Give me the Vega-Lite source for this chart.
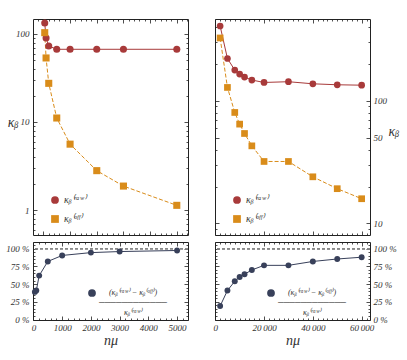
{
"$schema":"https://vega.github.io/schema/vega-lite/v6.json",
"padding":{"left":5,"top":18,"right":0,"bottom":0},
"datasets":{
"topL":[{"n":50,"s":"raw","k":133},{"n":100,"s":"raw","k":90},{"n":200,"s":"raw","k":73},{"n":500,"s":"raw","k":67},{"n":1000,"s":"raw","k":67},{"n":2000,"s":"raw","k":67},{"n":3000,"s":"raw","k":67},{"n":5000,"s":"raw","k":67},
{"n":50,"s":"off","k":103.5},{"n":100,"s":"off","k":53.4},{"n":200,"s":"off","k":27.5},{"n":500,"s":"off","k":11.1},{"n":1000,"s":"off","k":5.6},{"n":2000,"s":"off","k":2.8},{"n":3000,"s":"off","k":1.87},{"n":5000,"s":"off","k":1.13}],
"topR":[{"n":2000,"s":"raw","k":407},{"n":5000,"s":"raw","k":221},{"n":8000,"s":"raw","k":178},{"n":10000,"s":"raw","k":165},{"n":12000,"s":"raw","k":156},{"n":15000,"s":"raw","k":147.5},{"n":20000,"s":"raw","k":141},{"n":30000,"s":"raw","k":143},{"n":40000,"s":"raw","k":137.5},{"n":50000,"s":"raw","k":135},{"n":60000,"s":"raw","k":134},
{"n":2000,"s":"off","k":325},{"n":5000,"s":"off","k":128.4},{"n":8000,"s":"off","k":80.3},{"n":10000,"s":"off","k":64.5},{"n":12000,"s":"off","k":54.1},{"n":15000,"s":"off","k":42.9},{"n":20000,"s":"off","k":32},{"n":30000,"s":"off","k":32},{"n":40000,"s":"off","k":24},{"n":50000,"s":"off","k":19.2},{"n":60000,"s":"off","k":15.9}],
"botL":[{"n":50,"s":"frac","p":0.39},{"n":100,"s":"frac","p":0.41},{"n":200,"s":"frac","p":0.62},{"n":500,"s":"frac","p":0.82},{"n":1000,"s":"frac","p":0.905},{"n":2000,"s":"frac","p":0.945},{"n":3000,"s":"frac","p":0.96},{"n":5000,"s":"frac","p":0.975}],
"botR":[{"n":2000,"s":"frac","p":0.19},{"n":5000,"s":"frac","p":0.41},{"n":8000,"s":"frac","p":0.54},{"n":10000,"s":"frac","p":0.6},{"n":12000,"s":"frac","p":0.64},{"n":15000,"s":"frac","p":0.7},{"n":20000,"s":"frac","p":0.765},{"n":30000,"s":"frac","p":0.765},{"n":40000,"s":"frac","p":0.82},{"n":50000,"s":"frac","p":0.855},{"n":60000,"s":"frac","p":0.88}]
},
"spacing":23,
"resolve":{"scale":{"color":"independent","shape":"independent"},"legend":{"color":"independent","shape":"independent"}},
"hconcat":[
{"vconcat":[
{"width":155,"height":216,"data":{"name":"topL"},
"resolve":{"axis":{"x":"independent","y":"independent"}},
"layer":[
{"transform":[{"filter":"datum.s === 'raw'"}],
"mark":{"type":"line","strokeWidth":1,"color":"#a83a3a"},
"encoding":{
"x":{"field":"n","type":"quantitative","scale":{"domain":[-390,5420],"nice":false,"zero":false},"axis":{"orient":"bottom","values":[0,1000,2000,3000,4000,5000],"labels":false,"tickSize":4,"offset":-4,"title":null}},
"y":{"field":"k","type":"quantitative","scale":{"type":"log","domain":[0.52,148],"nice":false},"axis":{"orient":"left","values":[1,10,100],"tickSize":4,"offset":-4,"labelPadding":4,"title":"κᵦ","titleAngle":0,"titleAlign":"right","titleBaseline":"middle","titleX":-19,"titleY":103}}}},
{"transform":[{"filter":"datum.s === 'off'"}],
"mark":{"type":"line","strokeWidth":1,"color":"#d98c1a","strokeDash":[4,2]},
"encoding":{
"x":{"field":"n","type":"quantitative","axis":{"orient":"top","values":[0,1000,2000,3000,4000,5000],"labels":false,"tickSize":4,"offset":-4,"title":null}},
"y":{"field":"k","type":"quantitative","axis":{"orient":"right","values":[1,10,100],"labels":false,"tickSize":4,"offset":-4,"title":null}}}},
{"mark":{"type":"point","filled":true,"opacity":1,"size":50},
"encoding":{
"x":{"field":"n","type":"quantitative","axis":{"orient":"bottom","values":[-200,200,400,600,800,1200,1400,1600,1800,2200,2400,2600,2800,3200,3400,3600,3800,4200,4400,4600,4800,5200,5400],"labels":false,"tickSize":2,"offset":-2,"title":null}},
"y":{"field":"k","type":"quantitative","axis":{"orient":"left","values":[0.6,0.7,0.8,0.9,2,3,4,5,6,7,8,9,20,30,40,50,60,70,80,90],"labels":false,"tickSize":2,"offset":-2,"title":null}},
"color":{"field":"s","type":"nominal","scale":{"domain":["raw","off"],"range":["#a83a3a","#d98c1a"]},"legend":{"orient":"none","legendX":17,"legendY":176,"title":null,"labelExpr":"datum.label === 'raw' ? 'κᵦ⁽ʳᵃʷ⁾' : 'κᵦ⁽ᵒᶠᶠ⁾'","symbolSize":60,"rowPadding":9,"labelFontSize":10}},
"shape":{"field":"s","type":"nominal","scale":{"domain":["raw","off"],"range":["circle","square"]},"legend":{"orient":"none","legendX":17,"legendY":176,"title":null,"labelExpr":"datum.label === 'raw' ? 'κᵦ⁽ʳᵃʷ⁾' : 'κᵦ⁽ᵒᶠᶠ⁾'","symbolSize":60,"rowPadding":9,"labelFontSize":10}}}},
{"mark":{"type":"point","opacity":0},
"encoding":{
"x":{"field":"n","type":"quantitative","axis":{"orient":"top","values":[-200,200,400,600,800,1200,1400,1600,1800,2200,2400,2600,2800,3200,3400,3600,3800,4200,4400,4600,4800,5200,5400],"labels":false,"tickSize":2,"offset":-2,"title":null}},
"y":{"field":"k","type":"quantitative","axis":{"orient":"right","values":[0.6,0.7,0.8,0.9,2,3,4,5,6,7,8,9,20,30,40,50,60,70,80,90],"labels":false,"tickSize":2,"offset":-2,"title":null}}}}
]},
{"width":155,"height":78,"data":{"name":"botL"},
"resolve":{"axis":{"x":"independent","y":"independent"}},
"layer":[
{"mark":{"type":"rule","strokeDash":[3,2],"color":"#8a8a8a","strokeWidth":0.8},
"encoding":{"y":{"datum":1,"type":"quantitative","scale":{"domain":[-0.007,1.095],"nice":false,"zero":false},"axis":null}}},
{"mark":{"type":"line","color":"#38405a","strokeWidth":1},
"encoding":{
"x":{"field":"n","type":"quantitative","scale":{"domain":[-15,5380],"nice":false,"zero":false},"axis":{"orient":"bottom","values":[0,1000,2000,3000,4000,5000],"format":"d","tickSize":4,"offset":-4,"labelPadding":3,"title":"nμ","titlePadding":1}},
"y":{"field":"p","type":"quantitative","axis":{"orient":"left","values":[0,0.25,0.5,0.75,1],"labelExpr":"format(datum.value*100,'d') + ' %'","tickSize":4,"offset":-4,"labelPadding":4,"title":null}}}},
{"mark":{"type":"point","filled":true,"opacity":1,"size":35},
"encoding":{
"x":{"field":"n","type":"quantitative","axis":{"orient":"bottom","values":[200,400,600,800,1200,1400,1600,1800,2200,2400,2600,2800,3200,3400,3600,3800,4200,4400,4600,4800,5200],"labels":false,"tickSize":2,"offset":-2,"title":null}},
"y":{"field":"p","type":"quantitative","axis":{"orient":"left","values":[0.05,0.1,0.15,0.2,0.3,0.35,0.4,0.45,0.55,0.6,0.65,0.7,0.8,0.85,0.9,0.95,1.05],"labels":false,"tickSize":2,"offset":-2,"title":null}},
"color":{"field":"s","type":"nominal","scale":{"domain":["frac"],"range":["#38405a"]},"legend":{"orient":"none","legendX":54,"legendY":46,"title":null,"symbolSize":60,"labelAlign":"center","labelOffset":36,"labelFontSize":8,"labelExpr":"['(κᵦ⁽ʳᵃʷ⁾ − κᵦ⁽ᵒᶠᶠ⁾)', '────────────', 'κᵦ⁽ʳᵃʷ⁾']"}}}},
{"mark":{"type":"point","opacity":0},
"encoding":{
"x":{"field":"n","type":"quantitative","axis":{"orient":"top","values":[0,1000,2000,3000,4000,5000],"labels":false,"tickSize":4,"offset":-4,"title":null}},
"y":{"field":"p","type":"quantitative","axis":{"orient":"right","values":[0,0.25,0.5,0.75,1],"labels":false,"tickSize":4,"offset":-4,"title":null}}}},
{"mark":{"type":"point","opacity":0},
"encoding":{
"x":{"field":"n","type":"quantitative","axis":{"orient":"top","values":[200,400,600,800,1200,1400,1600,1800,2200,2400,2600,2800,3200,3400,3600,3800,4200,4400,4600,4800,5200],"labels":false,"tickSize":2,"offset":-2,"title":null}},
"y":{"field":"p","type":"quantitative","axis":{"orient":"right","values":[0.05,0.1,0.15,0.2,0.3,0.35,0.4,0.45,0.55,0.6,0.65,0.7,0.8,0.85,0.9,0.95,1.05],"labels":false,"tickSize":2,"offset":-2,"title":null}}}}
]}
],"spacing":5,
"resolve":{"scale":{"color":"independent","shape":"independent"},"legend":{"color":"independent","shape":"independent"}}},
{"vconcat":[
{"width":155,"height":216,"data":{"name":"topR"},
"resolve":{"axis":{"x":"independent","y":"independent"}},
"layer":[
{"transform":[{"filter":"datum.s === 'raw'"}],
"mark":{"type":"line","strokeWidth":1,"color":"#a83a3a"},
"encoding":{
"x":{"field":"n","type":"quantitative","scale":{"domain":[-100,63425],"nice":false,"zero":false},"axis":{"orient":"bottom","values":[0,20000,40000,60000],"labels":false,"tickSize":4,"offset":-4,"title":null}},
"y":{"field":"k","type":"quantitative","scale":{"type":"log","domain":[8.05,464],"nice":false},"axis":{"orient":"right","values":[10,50,100],"tickSize":4,"offset":-4,"labelPadding":3,"title":"κᵦ","titleAngle":0,"titleAlign":"left","titleBaseline":"middle","titleX":22,"titleY":112}}}},
{"transform":[{"filter":"datum.s === 'off'"}],
"mark":{"type":"line","strokeWidth":1,"color":"#d98c1a","strokeDash":[4,2]},
"encoding":{
"x":{"field":"n","type":"quantitative","axis":{"orient":"top","values":[0,20000,40000,60000],"labels":false,"tickSize":4,"offset":-4,"title":null}},
"y":{"field":"k","type":"quantitative","axis":{"orient":"left","values":[10,50,100],"labels":false,"tickSize":4,"offset":-4,"title":null}}}},
{"mark":{"type":"point","filled":true,"opacity":1,"size":45},
"encoding":{
"x":{"field":"n","type":"quantitative","axis":{"orient":"bottom","values":[2000,4000,6000,8000,10000,12000,14000,16000,18000,22000,24000,26000,28000,30000,32000,34000,36000,38000,42000,44000,46000,48000,50000,52000,54000,56000,58000,62000],"labels":false,"tickSize":2,"offset":-2,"title":null}},
"y":{"field":"k","type":"quantitative","axis":{"orient":"right","values":[9,20,30,40,60,70,80,90,200,300,400],"labels":false,"tickSize":2,"offset":-2,"title":null}},
"color":{"field":"s","type":"nominal","scale":{"domain":["raw","off"],"range":["#a83a3a","#d98c1a"]},"legend":{"orient":"none","legendX":17,"legendY":176,"title":null,"labelExpr":"datum.label === 'raw' ? 'κᵦ⁽ʳᵃʷ⁾' : 'κᵦ⁽ᵒᶠᶠ⁾'","symbolSize":60,"rowPadding":9,"labelFontSize":10}},
"shape":{"field":"s","type":"nominal","scale":{"domain":["raw","off"],"range":["circle","square"]},"legend":{"orient":"none","legendX":17,"legendY":176,"title":null,"labelExpr":"datum.label === 'raw' ? 'κᵦ⁽ʳᵃʷ⁾' : 'κᵦ⁽ᵒᶠᶠ⁾'","symbolSize":60,"rowPadding":9,"labelFontSize":10}}}},
{"mark":{"type":"point","opacity":0},
"encoding":{
"x":{"field":"n","type":"quantitative","axis":{"orient":"top","values":[2000,4000,6000,8000,10000,12000,14000,16000,18000,22000,24000,26000,28000,30000,32000,34000,36000,38000,42000,44000,46000,48000,50000,52000,54000,56000,58000,62000],"labels":false,"tickSize":2,"offset":-2,"title":null}},
"y":{"field":"k","type":"quantitative","axis":{"orient":"left","values":[9,20,30,40,60,70,80,90,200,300,400],"labels":false,"tickSize":2,"offset":-2,"title":null}}}}
]},
{"width":155,"height":78,"data":{"name":"botR"},
"resolve":{"axis":{"x":"independent","y":"independent"}},
"layer":[
{"mark":{"type":"rule","strokeDash":[3,2],"color":"#8a8a8a","strokeWidth":0.8},
"encoding":{"y":{"datum":1,"type":"quantitative","scale":{"domain":[-0.007,1.095],"nice":false,"zero":false},"axis":null}}},
{"mark":{"type":"line","color":"#38405a","strokeWidth":1},
"encoding":{
"x":{"field":"n","type":"quantitative","scale":{"domain":[-100,63425],"nice":false,"zero":false},"axis":{"orient":"bottom","values":[0,20000,40000,60000],"labelExpr":"replace(format(datum.value, ',d'), ',', '\u2009')","tickSize":4,"offset":-4,"labelPadding":3,"title":"nμ","titlePadding":1}},
"y":{"field":"p","type":"quantitative","axis":{"orient":"right","values":[0,0.25,0.5,0.75,1],"labelExpr":"format(datum.value*100,'d') + ' %'","tickSize":4,"offset":-4,"labelPadding":3,"title":null}}}},
{"mark":{"type":"point","filled":true,"opacity":1,"size":35},
"encoding":{
"x":{"field":"n","type":"quantitative","axis":{"orient":"bottom","values":[2000,4000,6000,8000,10000,12000,14000,16000,18000,22000,24000,26000,28000,30000,32000,34000,36000,38000,42000,44000,46000,48000,50000,52000,54000,56000,58000,62000],"labels":false,"tickSize":2,"offset":-2,"title":null}},
"y":{"field":"p","type":"quantitative","axis":{"orient":"right","values":[0.05,0.1,0.15,0.2,0.3,0.35,0.4,0.45,0.55,0.6,0.65,0.7,0.8,0.85,0.9,0.95,1.05],"labels":false,"tickSize":2,"offset":-2,"title":null}},
"color":{"field":"s","type":"nominal","scale":{"domain":["frac"],"range":["#38405a"]},"legend":{"orient":"none","legendX":51,"legendY":46,"title":null,"symbolSize":60,"labelAlign":"center","labelOffset":36,"labelFontSize":8,"labelExpr":"['(κᵦ⁽ʳᵃʷ⁾ − κᵦ⁽ᵒᶠᶠ⁾)', '────────────', 'κᵦ⁽ʳᵃʷ⁾']"}}}},
{"mark":{"type":"point","opacity":0},
"encoding":{
"x":{"field":"n","type":"quantitative","axis":{"orient":"top","values":[0,20000,40000,60000],"labels":false,"tickSize":4,"offset":-4,"title":null}},
"y":{"field":"p","type":"quantitative","axis":{"orient":"left","values":[0,0.25,0.5,0.75,1],"labels":false,"tickSize":4,"offset":-4,"title":null}}}},
{"mark":{"type":"point","opacity":0},
"encoding":{
"x":{"field":"n","type":"quantitative","axis":{"orient":"top","values":[2000,4000,6000,8000,10000,12000,14000,16000,18000,22000,24000,26000,28000,30000,32000,34000,36000,38000,42000,44000,46000,48000,50000,52000,54000,56000,58000,62000],"labels":false,"tickSize":2,"offset":-2,"title":null}},
"y":{"field":"p","type":"quantitative","axis":{"orient":"left","values":[0.05,0.1,0.15,0.2,0.3,0.35,0.4,0.45,0.55,0.6,0.65,0.7,0.8,0.85,0.9,0.95,1.05],"labels":false,"tickSize":2,"offset":-2,"title":null}}}}
]}
],"spacing":5,
"resolve":{"scale":{"color":"independent","shape":"independent"},"legend":{"color":"independent","shape":"independent"}}}
],
"config":{
"view":{"stroke":"#222","strokeWidth":1},
"axis":{"domain":false,"grid":false,"tickColor":"#222","tickWidth":0.8,"labelFont":"Liberation Serif","labelFontStyle":"italic","labelFontSize":9,"labelColor":"#333","labelFlush":false,"labelOverlap":false,"titleFont":"Liberation Serif","titleFontStyle":"italic","titleFontWeight":"normal","titleFontSize":14,"titleColor":"#333"},
"legend":{"labelFont":"Liberation Serif","labelFontStyle":"italic","labelFontSize":9,"labelColor":"#333","labelLimit":0,"padding":0}
}
}
